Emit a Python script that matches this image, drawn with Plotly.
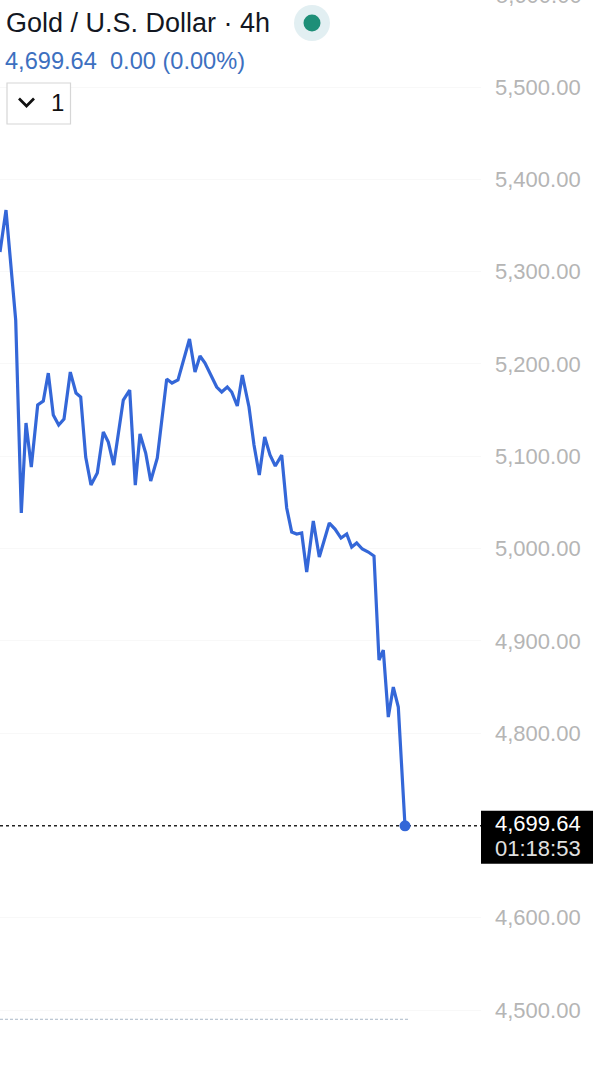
import plotly.graph_objects as go

# ---- data ----
bar_pos = [0, 6, 15.7, 21.3, 26, 31.3, 37.7, 43.3, 48.3, 53.3, 58.7, 64, 70.3, 76, 80.7,
           85.7, 91, 97.3, 103.3, 108.3, 113.7, 118.7, 123.3, 129.7, 135.3, 140, 145.7,
           150.7, 157.3, 166.7, 172, 178, 183.5, 189.5, 195, 200, 205, 211.7, 216.7,
           221.7, 227.3, 231.7, 237.3, 242.3, 249, 254, 259.3, 264.7, 270, 275.3, 281.7,
           286.7, 291.7, 296.7, 301.7, 306.7, 313.3, 319.3, 329.3, 335, 341, 346.7,
           351.7, 356.7, 362.3, 368.3, 374, 379, 383.3, 388.3, 393.3, 398.3, 405]
price = [5321.2, 5366.7, 5247.6, 5038.5, 5136.0, 5088.3, 5155.5, 5159.8, 5190.1, 5144.6,
         5133.8, 5140.3, 5191.2, 5168.5, 5164.1, 5099.1, 5068.8, 5081.8, 5126.2, 5115.4,
         5090.5, 5128.4, 5160.9, 5171.7, 5068.8, 5124.1, 5103.5, 5073.1, 5098.1, 5183.6,
         5179.3, 5182.6, 5205.3, 5227.0, 5191.2, 5208.6, 5201.0, 5185.8, 5175.0, 5169.6,
         5175.0, 5169.6, 5154.4, 5188.0, 5153.3, 5112.1, 5079.6, 5120.8, 5101.3, 5089.4,
         5101.3, 5043.9, 5017.9, 5015.7, 5016.8, 4974.5, 5029.8, 4990.8, 5027.6, 5021.1,
         5011.4, 5015.7, 5001.6, 5006.0, 4999.5, 4996.2, 4991.9, 4879.2, 4890.0, 4817.4,
         4849.9, 4828.3, 4699.64]
tick_vals = [4500, 4600, 4800, 4900, 5000, 5100, 5200, 5300, 5400, 5500]
tick_text = ["4,500.00", "4,600.00", "4,800.00", "4,900.00", "5,000.00",
             "5,100.00", "5,200.00", "5,300.00", "5,400.00", "5,500.00"]
top_cut_label = "5,600.00"
title_text = "Gold / U.S. Dollar · 4h"
sub_text = "4,699.64  0.00 (0.00%)"
last_label = "4,699.64"
countdown = "01:18:53"
low_line = 4490

W, H = 600, 1068
R = 119
PW = W - R
Y_TOP, Y_BOT = 5594.3, 4437.2
LINE = "#3467d8"
FONT = "Liberation Sans, Arial, sans-serif"
TICK_SIZE = 22

fig = go.Figure()
fig.add_trace(go.Scatter(x=bar_pos, y=price, mode="lines",
                         line=dict(color=LINE, width=3.2), hoverinfo="skip"))
fig.add_trace(go.Scatter(x=[bar_pos[-1]], y=[price[-1]], mode="markers",
                         marker=dict(color=LINE, size=11), hoverinfo="skip"))

shapes = []
shapes.append(dict(type="line", xref="paper", x0=0, x1=1, yref="y",
                   y0=price[-1], y1=price[-1],
                   line=dict(color="#222222", width=1.6, dash="dot"), layer="below"))
shapes.append(dict(type="line", xref="x", x0=0, x1=408, yref="y", y0=low_line, y1=low_line,
                   line=dict(color="#a9b8c8", width=1, dash="3px,2px"), layer="below"))
shapes.append(dict(type="rect", xref="paper", x0=1.0, x1=1 + 112 / PW,
                   yref="y", ysizemode="pixel", yanchor=price[-1], y0=-38, y1=15,
                   fillcolor="#000000", line=dict(width=0)))

def px(x):
    return x / PW

def py(y):
    return 1 - y / H

cx, cy = 312, 23
shapes.append(dict(type="circle", xref="paper", yref="paper",
                   x0=px(cx - 18), x1=px(cx + 18), y0=py(cy + 18), y1=py(cy - 18),
                   fillcolor="#e2eff2", line=dict(width=0)))
shapes.append(dict(type="circle", xref="paper", yref="paper",
                   x0=px(cx - 8.5), x1=px(cx + 8.5), y0=py(cy + 8.5), y1=py(cy - 8.5),
                   fillcolor="#1e8f78", line=dict(width=0)))
shapes.append(dict(type="rect", xref="paper", yref="paper",
                   x0=px(7), x1=px(70.5), y0=py(124), y1=py(83),
                   fillcolor="rgba(255,255,255,1)", line=dict(color="#d6d6d6", width=1.2)))
shapes.append(dict(type="path", xref="paper", yref="paper",
                   path=f"M {px(19)} {py(98.5)} L {px(26.5)} {py(106)} L {px(34)} {py(98.5)}",
                   line=dict(color="#111111", width=2.7)))

annotations = [
    dict(text=title_text, xref="paper", yref="paper", x=px(4), y=py(23), xanchor="left",
         yanchor="middle", showarrow=False, font=dict(family=FONT, size=27, color="#131722")),
    dict(text=sub_text.replace("  ", "&nbsp;&nbsp;"), xref="paper", yref="paper", x=px(3), y=py(61),
         xanchor="left", yanchor="middle", showarrow=False,
         font=dict(family=FONT, size=23.6, color="#3d70c0")),
    dict(text="1", xref="paper", yref="paper", x=px(49), y=py(103), xanchor="left",
         yanchor="middle", showarrow=False, font=dict(family=FONT, size=24, color="#111111")),
    dict(text=last_label, xref="paper", yref="y", x=px(494), y=price[-1], yshift=2,
         xanchor="left", yanchor="middle", showarrow=False, borderpad=0,
         font=dict(family=FONT, size=TICK_SIZE, color="#ffffff")),
    dict(text=countdown, xref="paper", yref="y", x=px(494), y=price[-1], yshift=-23,
         xanchor="left", yanchor="middle", showarrow=False, borderpad=0,
         font=dict(family=FONT, size=TICK_SIZE, color="#e0e0e0")),
    dict(text=top_cut_label, xref="paper", yref="paper", x=px(494), y=py(-5), xanchor="left",
         yanchor="middle", showarrow=False,
         font=dict(family=FONT, size=TICK_SIZE, color="#b5b5b5")),
]

fig.update_layout(
    width=W, height=H, margin=dict(l=0, r=R, t=0, b=0),
    paper_bgcolor="#ffffff", plot_bgcolor="#ffffff", showlegend=False,
    shapes=shapes, annotations=annotations,
    xaxis=dict(range=[0, PW], showgrid=False, zeroline=False, showticklabels=False,
               showline=False, fixedrange=True),
    yaxis=dict(range=[Y_BOT, Y_TOP], side="right", tickvals=tick_vals, ticktext=tick_text,
               showgrid=True, gridcolor="#f8f8f8", zeroline=False, showline=False,
               ticks="", ticklabelstandoff=13,
               tickfont=dict(family=FONT, size=TICK_SIZE, color="#b5b5b5"), fixedrange=True),
)

fig.write_html("out.html", config={"displayModeBar": False},
               post_script="document.body.style.margin='0';document.body.style.padding='0';")
